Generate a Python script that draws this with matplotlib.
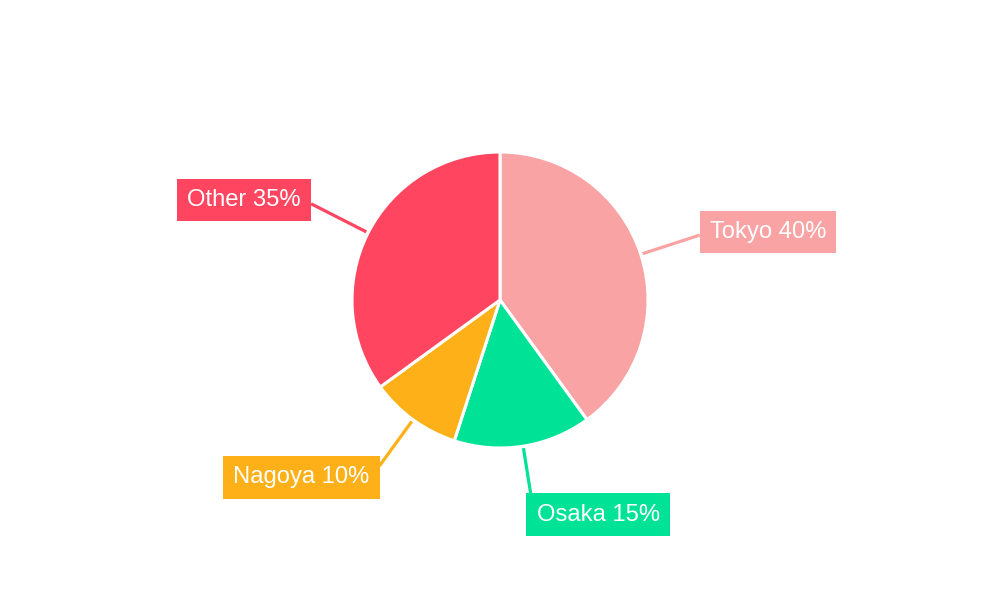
import numpy as np
import matplotlib.pyplot as plt

plt.rcParams['font.family'] = ['Liberation Sans', 'DejaVu Sans']

# data
cities = ['Tokyo', 'Osaka', 'Nagoya', 'Other']
shares = [40, 15, 10, 35]
colors = ['#F9A3A4', '#00E396', '#FEB019', '#FF4560']

# label layout: connector end radius and box offset (px)
line_end = [210, 196, 205, 212]
box_off = [(0, 3), (-4, -21), (0, -11.5), (0, 3.5)]

fig = plt.figure(figsize=(10, 6), dpi=100)
ax = fig.add_axes([0, 0, 1, 1])
ax.set_xlim(0, 1000)
ax.set_ylim(0, 600)
ax.axis('off')

cx, cy, r = 500, 300, 148
wedges, _ = ax.pie(shares, colors=colors, startangle=90, counterclock=False,
                   center=(cx, cy), radius=r,
                   wedgeprops=dict(edgecolor='white', linewidth=2.2))
ax.set_xlim(0, 1000)
ax.set_ylim(0, 600)
ax.set_aspect('equal')

for w, name, val, col, re, (ox, oy) in zip(wedges, cities, shares, colors, line_end, box_off):
    ang = np.deg2rad((w.theta1 + w.theta2) / 2)
    x0, y0 = cx + (r + 2) * np.cos(ang), cy + (r + 2) * np.sin(ang)
    x1, y1 = cx + re * np.cos(ang), cy + re * np.sin(ang)
    ax.plot([x0, x1], [y0, y1], color=col, lw=2.3, solid_capstyle='butt')
    ha = 'left' if np.cos(ang) > 0 else 'right'
    tx = x1 + (10 if ha == 'left' else -10) + ox
    ax.text(tx, y1 + oy, f'{name} {val}%', color='white', fontsize=17.1,
            ha=ha, va='center',
            bbox=dict(boxstyle='square,pad=0.43', fc=col, ec='none'))

fig.savefig('out.png', dpi=100)
